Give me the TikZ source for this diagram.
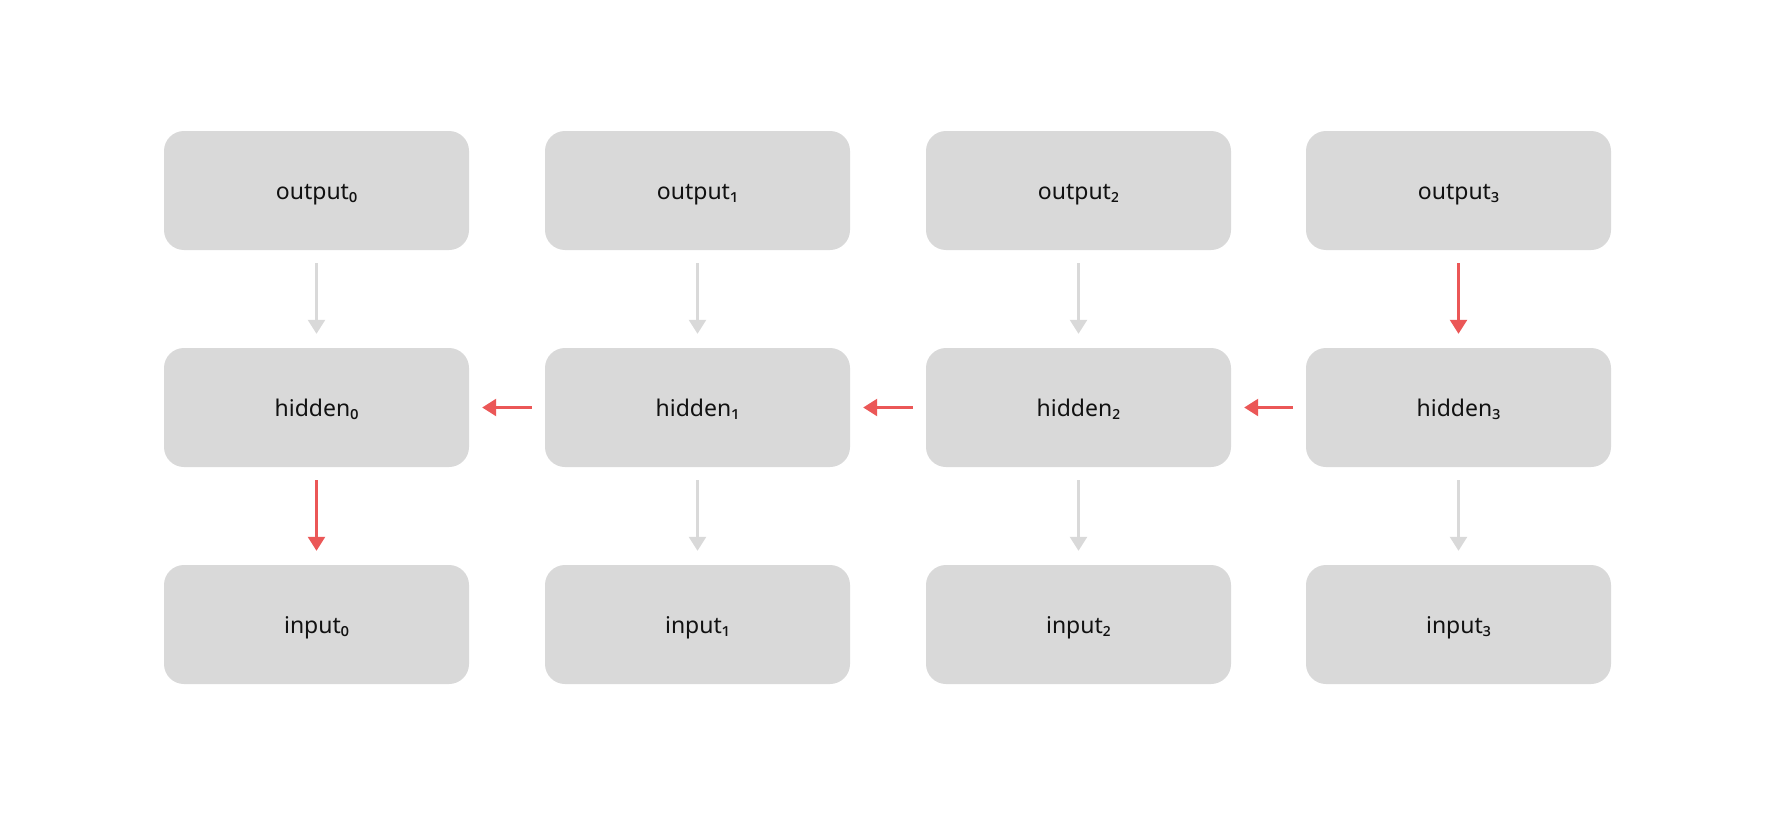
\documentclass[tikz,border=0pt]{standalone}
\usepackage{fontspec}
\setmainfont{Noto Sans}
\usetikzlibrary{arrows.meta}
\definecolor{boxgray}{HTML}{D9D9D9}
\definecolor{arrred}{HTML}{EB5757}
\definecolor{txt}{HTML}{111111}
\begin{document}
\begin{tikzpicture}[x=1pt,y=-1pt,
  cell/.style={fill=boxgray,rounded corners=20pt,minimum width=305pt,minimum height=119pt,inner sep=0pt,text=txt,text height=17pt,text depth=0pt,font=\fontsize{23}{27}\selectfont},
  garr/.style={draw=boxgray,line width=2.5pt,-{Triangle[width=17pt,length=14pt]}},
  rarr/.style={draw=arrred,line width=2.5pt,-{Triangle[width=17pt,length=14pt]}}]
\useasboundingbox (0,0) rectangle (1775,816);
\fill[white] (0,0) rectangle (1775,816);
\foreach \i/\x/\s in {0/316.5/₀,1/697.5/₁,2/1078.5/₂,3/1458.5/₃}{
  \node[cell] (o\i) at (\x,190.5) {output\s};
  \node[cell] (h\i) at (\x,407.5) {hidden\s};
  \node[cell] (in\i) at (\x,624.5) {input\s};
}
% vertical arrows output -> hidden
\draw[garr] ([yshift=-13pt]o0.south) -- ([yshift=14pt]h0.north);
\draw[garr] ([yshift=-13pt]o1.south) -- ([yshift=14pt]h1.north);
\draw[garr] ([yshift=-13pt]o2.south) -- ([yshift=14pt]h2.north);
\draw[rarr] ([yshift=-13pt]o3.south) -- ([yshift=14pt]h3.north);
% vertical arrows hidden -> input
\draw[rarr] ([yshift=-13pt]h0.south) -- ([yshift=14pt]in0.north);
\draw[garr] ([yshift=-13pt]h1.south) -- ([yshift=14pt]in1.north);
\draw[garr] ([yshift=-13pt]h2.south) -- ([yshift=14pt]in2.north);
\draw[garr] ([yshift=-13pt]h3.south) -- ([yshift=14pt]in3.north);
% horizontal arrows
\draw[rarr] ([xshift=-13pt]h1.west) -- ([xshift=13pt]h0.east);
\draw[rarr] ([xshift=-13pt]h2.west) -- ([xshift=13pt]h1.east);
\draw[rarr] ([xshift=-13pt]h3.west) -- ([xshift=13pt]h2.east);
\end{tikzpicture}
\end{document}
